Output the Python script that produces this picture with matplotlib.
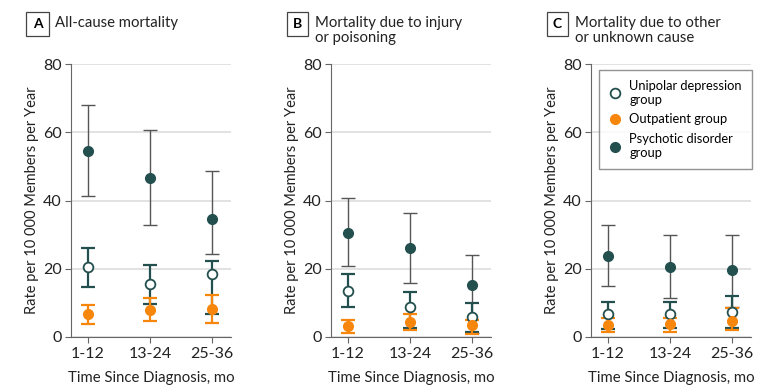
import numpy as np
import matplotlib
matplotlib.use("Agg")
import matplotlib.pyplot as plt

plt.rcParams['font.family'] = ['Lato', 'DejaVu Sans']

periods = ['1-12', '13-24', '25-36']
panel_letters = ['A', 'B', 'C']
panel_titles = ['All-cause mortality',
                'Mortality due to injury\nor poisoning',
                'Mortality due to other\nor unknown cause']

# rate, lower CI, upper CI per panel (A, B, C)
unipolar_rate = [[20.4, 15.4, 18.5], [13.6, 8.8, 5.8], [6.8, 6.7, 7.3]]
unipolar_low = [[14.6, 9.6, 6.6], [8.9, 2.5, 1.4], [2.4, 2.7, 2.5]]
unipolar_high = [[26.2, 21.2, 22.4], [18.5, 13.2, 10.0], [10.2, 10.4, 12.0]]

outpatient_rate = [[6.6, 8.0, 8.1], [3.1, 4.3, 3.4], [3.6, 3.8, 4.8]]
outpatient_low = [[3.9, 4.7, 4.2], [1.3, 2.0, 0.9], [1.6, 1.5, 2.0]]
outpatient_high = [[9.4, 11.4, 12.2], [4.9, 6.6, 4.9], [5.6, 5.7, 8.5]]

psychotic_rate = [[54.4, 46.6, 34.6], [30.6, 26.2, 15.1], [23.8, 20.6, 19.5]]
psychotic_low = [[41.2, 32.8, 24.4], [20.8, 15.7, 1.2], [15.0, 11.5, 8.7]]
psychotic_high = [[68.0, 60.6, 48.5], [40.7, 36.4, 24.1], [32.7, 30.0, 30.0]]

dark = '#234f4f'
orange = '#f7860d'
bar_gray = '#555555'

fig = plt.figure(figsize=(7.83, 3.92), dpi=100)
lefts = [71 / 783, 331 / 783, 591 / 783]
x = np.arange(len(periods))


def draw(ax, rate, low, high, ecolor, elw, **mk):
    rate = np.array(rate)
    yerr = [rate - np.array(low), np.array(high) - rate]
    ax.errorbar(x, rate, yerr=yerr, fmt='none', ecolor=ecolor,
                elinewidth=elw, capsize=5, capthick=elw, zorder=3)
    return ax.plot(x, rate, 'o', markersize=7, zorder=4, **mk)[0]


for i in range(3):
    ax = fig.add_axes([lefts[i], 55 / 392, 160 / 783, 273 / 392])
    h3 = draw(ax, psychotic_rate[i], psychotic_low[i], psychotic_high[i],
              bar_gray, 1.0, color=dark, markeredgecolor=dark)
    h1 = draw(ax, unipolar_rate[i], unipolar_low[i], unipolar_high[i],
              dark, 1.6, markerfacecolor='white', markeredgecolor=dark,
              markeredgewidth=1.3)
    h2 = draw(ax, outpatient_rate[i], outpatient_low[i], outpatient_high[i],
              orange, 1.6, color=orange, markeredgecolor=orange)

    ax.set_ylim(0, 80)
    ax.set_xlim(-0.27, 2.3)
    ax.set_yticks([0, 20, 40, 60, 80])
    ax.set_xticks(x)
    ax.set_xticklabels(periods)
    ax.tick_params(labelsize=11.5, length=4, color='#666666', colors='#222222')
    ax.tick_params(axis='y', pad=2.5)
    ax.yaxis.grid(True, color='#dddddd', linewidth=1.2)
    ax.set_axisbelow(True)
    for s in ['top', 'right']:
        ax.spines[s].set_visible(False)
    for s in ['left', 'bottom']:
        ax.spines[s].set_color('#666666')
    ax.set_ylabel('Rate per 10 000 Members per Year', fontsize=10.5,
                  color='#222222', labelpad=3)
    ax.set_xlabel('Time Since Diagnosis, mo', fontsize=10.7, color='#222222',
                  labelpad=7)

    bx = lefts[i] - 33.5 / 783
    fig.text(bx, 1 - 24 / 392, panel_letters[i], fontsize=10,
             fontweight='bold', ha='center', va='center',
             bbox=dict(boxstyle='square,pad=0.45', facecolor='white',
                       edgecolor='#444444', linewidth=0.9))
    fig.text(bx + 17.5 / 783, 1 - 16 / 392, panel_titles[i], fontsize=10.7,
             ha='left', va='top', color='#222222', linespacing=1.1)

    if i == 2:
        leg = ax.legend([h1, h2, h3],
                        ['Unipolar depression\ngroup', 'Outpatient group',
                         'Psychotic disorder\ngroup'],
                        loc='upper left', bbox_to_anchor=(0.05, 0.978),
                        borderaxespad=0,
                        fontsize=9.3, frameon=True, fancybox=False,
                        edgecolor='#777777', handletextpad=0.6,
                        borderpad=0.75, labelspacing=0.6, handlelength=1.0)
        leg.get_frame().set_linewidth(1.0)

fig.savefig('out.png', dpi=100)
